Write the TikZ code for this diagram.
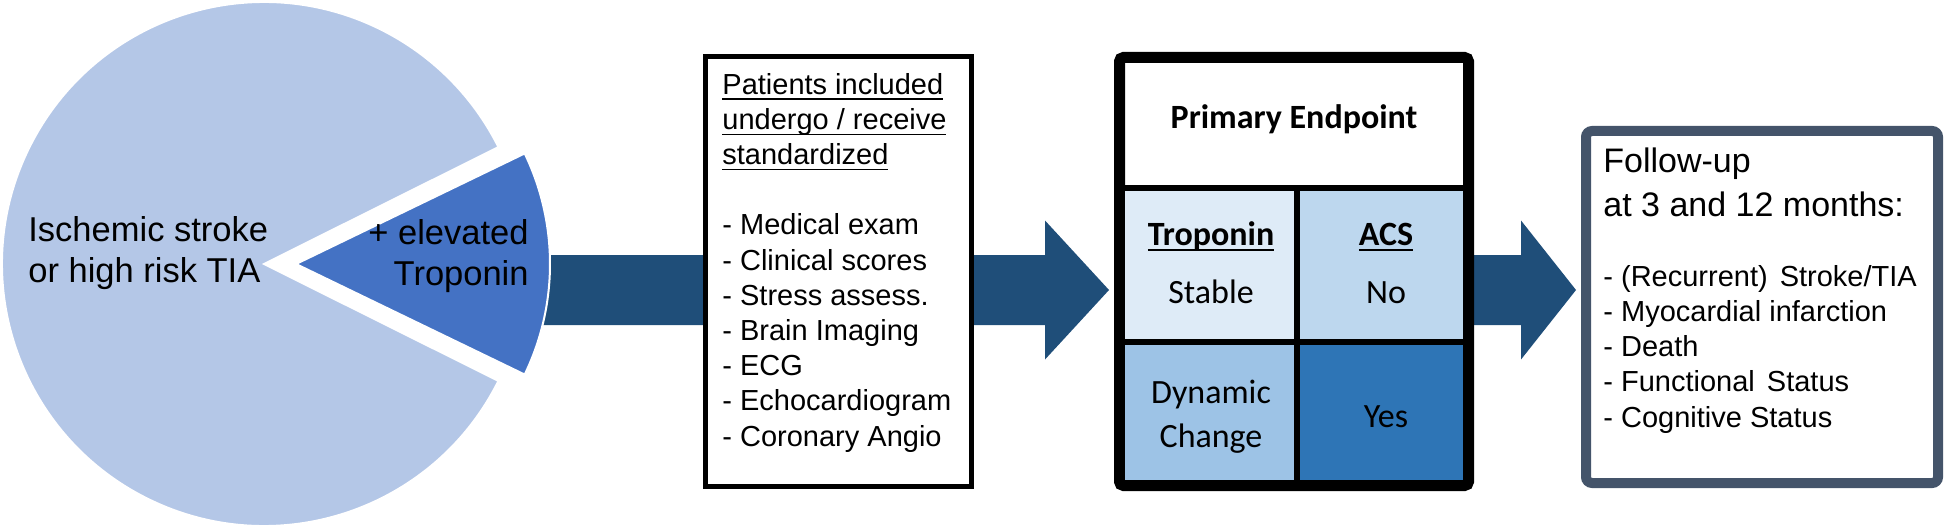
\documentclass[tikz,border=0pt]{standalone}
\usepackage{fontspec}
\setmainfont{Liberation Sans}
\newfontfamily\calfont{Carlito}
\usepackage{xcolor}
\usetikzlibrary{calc}
\usetikzlibrary{backgrounds}

\definecolor{pielight}{HTML}{B4C7E7}
\definecolor{piedark}{HTML}{4472C4}
\definecolor{flowblue}{HTML}{1F4E79}
\definecolor{cellA}{HTML}{DEEBF7}
\definecolor{cellB}{HTML}{BDD7EE}
\definecolor{cellC}{HTML}{9DC3E6}
\definecolor{cellD}{HTML}{2E75B6}
\definecolor{slate}{HTML}{44546A}

\newcommand{\undl}[1]{\setbox0=\hbox{#1}\rlap{\rule[-3pt]{\wd0}{0.8pt}}\box0}

\begin{document}
\begin{tikzpicture}[x=0.5pt,y=-0.5pt,
  flow/.style={fill=flowblue},
  piefont/.style={font=\fontsize{17.25}{20.5}\selectfont, inner sep=0pt},
  listfont/.style={font=\fontsize{14.5}{17.6}\selectfont, inner sep=0pt, align=left, anchor=base west},
  cellfont/.style={font=\calfont\fontsize{17}{22}\selectfont, inner sep=0pt, anchor=base}]

\useasboundingbox (0,0) rectangle (1946,529);

\filldraw[fill=pielight, draw=white, line width=1pt] (264,264) -- ++(26.5:262) arc[start angle=26.5, end angle=333.5, radius=262] -- cycle;
\filldraw[fill=piedark, draw=white, line width=1pt] (296,264) -- ++(-25.8:254) arc[start angle=-25.8, end angle=25.8, radius=254] -- cycle;
\node[piefont, align=left, anchor=base west] (stroke) at (28,282) {Ischemic stroke\\or high risk TIA};
\node[piefont, align=right, anchor=base east] (tropo) at (529,285) {+ elevated\\Troponin};

\node[draw, line width=2.5pt, fill=white, minimum width=133pt, minimum height=215pt, inner sep=0pt] (exams) at (838.5,271.5) {};
\node[listfont] (examlist) at (722,446) {\undl{Patients included}\\\undl{undergo / receive}\\\undl{standardized}\\[17.6pt]- Medical exam\\- Clinical scores\\- Stress assess.\\- Brain Imaging\\- ECG\\- Echocardiogram\\- Coronary Angio};

\node[draw, line width=5.5pt, fill=white, rounded corners=2pt, minimum width=174.5pt, minimum height=214pt, inner sep=0pt] (endpt) at (1294,271.5) {};
\fill[cellA] (1125,188) rectangle (1297,341.5);
\fill[cellB] (1297,188) rectangle (1463,341.5);
\fill[cellC] (1125,341.5) rectangle (1297,480);
\fill[cellD] (1297,341.5) rectangle (1463,480);
\draw[line width=3pt] (1125,188) -- (1463,188) (1125,341.5) -- (1463,341.5) (1297,188) -- (1297,480);
\node[cellfont] (primary) at (1294,129) {\bfseries Primary Endpoint};
\node[cellfont] (tropohead) at (1211,245) {\bfseries\undl{Troponin}};
\node[cellfont] (stable) at (1211,303) {Stable};
\node[cellfont] (acshead) at (1386,245) {\bfseries\undl{ACS}};
\node[cellfont] (acsno) at (1386,303) {No};
\node[cellfont, align=center] (dynamic) at (1211,447) {Dynamic\\Change};
\node[cellfont] (acsyes) at (1386,427) {Yes};

\node[draw=slate, line width=5pt, fill=white, rounded corners=3pt, minimum width=176pt, minimum height=176pt, inner sep=0pt] (follow) at (1762,307) {};
\node[font=\fontsize{17}{21.5}\selectfont, inner sep=0pt, align=left, anchor=base west] (followhead) at (1603,216) {Follow-up\\at 3 and 12 months:};
\node[listfont] (outcomes) at (1603,427) {- (Recurrent)\hspace{2pt} Stroke/TIA\\- Myocardial infarction\\- Death\\- Functional\hspace{2pt} Status\\- Cognitive Status};

\coordinate (arrowrow) at (0,290);
\begin{scope}[on background layer]
\path (540,290) coordinate (a1s) ($(endpt.west |- arrowrow)+(-5,0)$) coordinate (a1e);
\fill[flow] ($(a1s)+(0,-35)$) -- ($(a1e)+(-64,-35)$) -- ($(a1e)+(-64,-69.5)$) -- (a1e) -- ($(a1e)+(-64,69.5)$) -- ($(a1e)+(-64,35)$) -- ($(a1s)+(0,35)$) -- cycle;
\path (endpt.east |- arrowrow) coordinate (a2s) ($(follow.west |- arrowrow)+(-5,0)$) coordinate (a2e);
\fill[flow] ($(a2s)+(0,-35)$) -- ($(a2e)+(-55,-35)$) -- ($(a2e)+(-55,-69.5)$) -- (a2e) -- ($(a2e)+(-55,69.5)$) -- ($(a2e)+(-55,35)$) -- ($(a2s)+(0,35)$) -- cycle;
\end{scope}

\end{tikzpicture}
\end{document}
